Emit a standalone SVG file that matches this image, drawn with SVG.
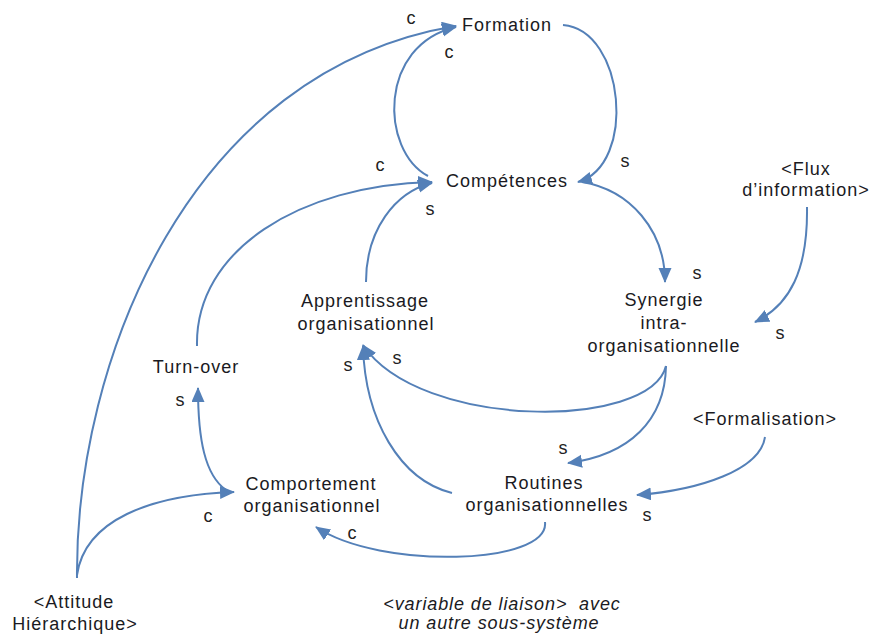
<svg xmlns="http://www.w3.org/2000/svg" width="872" height="634" viewBox="0 0 872 634">
<style>
.n{font-family:"Liberation Sans",Arial,sans-serif;font-size:18px;letter-spacing:1px;fill:#1a1a22;text-anchor:middle}
.l{font-family:"Liberation Sans",Arial,sans-serif;font-size:18px;fill:#222;text-anchor:middle}
.i{font-family:"Liberation Sans",Arial,sans-serif;font-size:18px;font-style:italic;letter-spacing:0.9px;fill:#1a1a22;text-anchor:middle}
.c{fill:none;stroke:#5480b8;stroke-width:2;marker-end:url(#ah)}
</style>
<defs>
<marker id="ah" markerUnits="userSpaceOnUse" markerWidth="16" markerHeight="14" refX="14" refY="6.5" orient="auto">
<path d="M0,0 L15,6.5 L0,13 z" fill="#5480b8"/>
</marker>
</defs>
<rect width="872" height="634" fill="#fff"/>
<g id="connectors">
<path class="c" d="M77,578 C75,360 190,70 456,26"/>
<path class="c" d="M77,575 C85,520 150,495 234,492"/>
<path class="c" d="M428,176 C380,150 378,45 456,27"/>
<path class="c" d="M563,25 C625,30 637,165 578,182"/>
<path class="c" d="M197,346 C195,250 300,185 432,182"/>
<path class="c" d="M366,282 C366,230 395,192 432,183"/>
<path class="c" d="M582,182 C630,190 665,230 665,282"/>
<path class="c" d="M807,207 C808,270 790,305 755,322"/>
<path class="c" d="M666,366 C650,430 420,430 363,345"/>
<path class="c" d="M666,366 C665,420 630,455 568,463"/>
<path class="c" d="M452,493 C400,480 365,420 363,346"/>
<path class="c" d="M765,437 C760,470 700,490 637,495"/>
<path class="c" d="M545,522 C550,565 380,570 316,527"/>
<path class="c" d="M226,490 C205,475 198,440 198,388"/>
</g>
<g id="labels">
<text class="l" x="411" y="24">c</text>
<text class="l" x="449" y="58">c</text>
<text class="l" x="625" y="167">s</text>
<text class="l" x="380" y="171">c</text>
<text class="l" x="430" y="215">s</text>
<text class="l" x="697" y="279">s</text>
<text class="l" x="780" y="339">s</text>
<text class="l" x="348" y="371">s</text>
<text class="l" x="397" y="364">s</text>
<text class="l" x="180" y="406">s</text>
<text class="l" x="563" y="454">s</text>
<text class="l" x="647" y="521">s</text>
<text class="l" x="208" y="522">c</text>
<text class="l" x="352" y="539">c</text>
</g>
<g id="formation"><text class="n" x="507" y="31">Formation</text></g>
<g id="competences"><text class="n" x="507" y="187">Compétences</text></g>
<g id="flux"><text class="n" x="806" y="175">&lt;Flux</text><text class="n" x="806" y="196">d’information&gt;</text></g>
<g id="apprentissage"><text class="n" x="365" y="307">Apprentissage</text><text class="n" x="366" y="330">organisationnel</text></g>
<g id="synergie"><text class="n" x="664" y="306">Synergie</text><text class="n" x="664" y="329">intra-</text><text class="n" x="664" y="352">organisationnelle</text></g>
<g id="turnover"><text class="n" x="196" y="373">Turn-over</text></g>
<g id="formalisation"><text class="n" x="765" y="425">&lt;Formalisation&gt;</text></g>
<g id="comportement"><text class="n" x="311" y="490">Comportement</text><text class="n" x="312" y="512">organisationnel</text></g>
<g id="routines"><text class="n" x="544" y="489">Routines</text><text class="n" x="547" y="511">organisationnelles</text></g>
<g id="attitude"><text class="n" x="74" y="608">&lt;Attitude</text><text class="n" x="75" y="630">Hiérarchique&gt;</text></g>
<g id="note"><text class="i" x="502" y="610">&lt;variable de liaison&gt;&#160; avec</text><text class="i" x="499" y="629">un autre sous-système</text></g>
</svg>
